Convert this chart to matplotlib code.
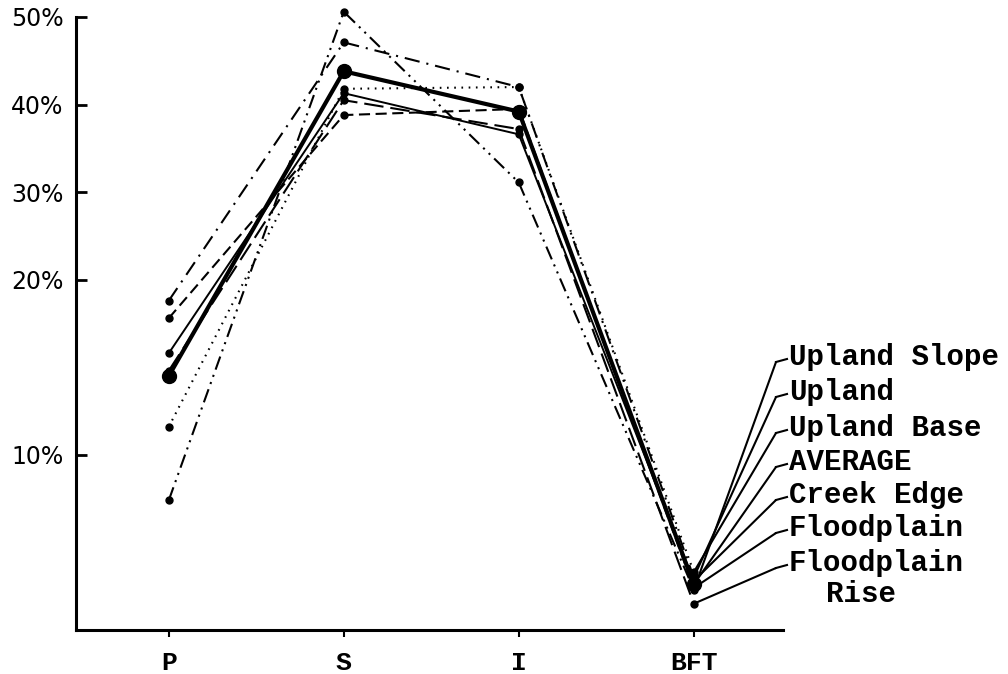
import numpy as np
import matplotlib
matplotlib.use('Agg')
import matplotlib.pyplot as plt
from matplotlib.lines import Line2D

plt.rcParams['lines.scale_dashes'] = False

# ---- data ----
categories = ['P', 'S', 'I', 'BFT']
y_ticks = [10, 20, 30, 40, 50]
y_tick_labels = ['10%', '20%', '30%', '40%', '50%']

upland_slope = [7.4, 50.6, 31.1, 2.3]
upland = [18.8, 47.1, 42.0, 3.0]
upland_base = [11.6, 41.8, 42.0, 3.3]
average = [14.5, 43.8, 39.2, 2.6]
creek_edge = [15.8, 41.3, 36.6, 2.8]
floodplain = [17.8, 38.8, 39.5, 2.4]
floodplain_rise = [14.8, 40.5, 37.2, 1.5]

label_names = ['Upland Slope', 'Upland', 'Upland Base', 'AVERAGE',
               'Creek Edge', 'Floodplain', 'Floodplain']
label_extra = 'Rise'

# ---- figure ----
W, H = 1008, 674
fig = plt.figure(figsize=(W / 100, H / 100), dpi=100)
ax = fig.add_axes([0.0754, 0.0653, 0.7014, 0.9095])


def fwd(v):
    v = np.asarray(v, dtype=float)
    return np.where(v <= 20, v, 20 + (v - 20) * 0.5)


def inv(t):
    t = np.asarray(t, dtype=float)
    return np.where(t <= 20, t, 20 + (t - 20) * 2.0)


ax.set_yscale('function', functions=(fwd, inv))

x = np.arange(len(categories))

styles = [
    (upland_slope, dict(lw=1.5, dashes=(10, 4, 1.5, 4, 1.5, 4), ms=5)),
    (upland, dict(lw=1.5, dashes=(11, 5, 1.5, 5), ms=5)),
    (upland_base, dict(lw=1.5, dashes=(1.2, 4), ms=5)),
    (average, dict(lw=3.0, ms=10)),
    (creek_edge, dict(lw=1.4, ms=5)),
    (floodplain, dict(lw=1.5, dashes=(8, 4), ms=5)),
    (floodplain_rise, dict(lw=1.5, dashes=(14, 5), ms=5)),
]

for vals, st in styles:
    kw = dict(color='black', marker='o', markersize=st['ms'], lw=st['lw'],
              clip_on=False, solid_capstyle='round')
    line, = ax.plot(x, vals, **kw)
    if 'dashes' in st:
        line.set_dashes(st['dashes'])

ax.set_xlim(-0.53, 3.51)
ax.set_ylim(0, 50)

ax.set_xticks(x)
ax.set_xticklabels(categories, fontfamily='Liberation Mono', fontsize=19,
                   fontweight='bold')
ax.set_yticks(y_ticks)
ax.set_yticklabels(y_tick_labels, fontfamily='DejaVu Sans', fontsize=17)
ax.tick_params(axis='y', direction='in', length=8, width=2, pad=9)
ax.tick_params(axis='x', direction='out', length=5, width=1.5, pad=10)
ax.minorticks_off()

for s in ['top', 'right']:
    ax.spines[s].set_visible(False)
for s in ['left', 'bottom']:
    ax.spines[s].set_linewidth(2.2)

# ---- leader labels ----
label_y = [357, 392, 428, 462, 495, 528, 563]
all_series = [upland_slope, upland, upland_base, average, creek_edge,
              floodplain, floodplain_rise]
for name, yc, vals in zip(label_names, label_y, all_series):
    hx, hy = 776, H - (yc + 5)
    ax.annotate('', xy=(3, vals[3]), xycoords='data',
                xytext=(hx, hy), textcoords='figure pixels',
                arrowprops=dict(arrowstyle='-', lw=1.5, color='black',
                                shrinkA=0, shrinkB=0),
                annotation_clip=False)
    fig.add_artist(Line2D([hx, 787], [hy, H - (yc + 2)], transform=None,
                          color='black', lw=1.5))
    fig.text(789 / W, 1 - yc / H, name, ha='left', va='center',
             fontfamily='Liberation Mono', fontsize=21, fontweight='bold')

fig.text(826 / W, 1 - 594 / H, label_extra, ha='left', va='center',
         fontfamily='Liberation Mono', fontsize=21, fontweight='bold')

fig.savefig('out.png', dpi=100)
